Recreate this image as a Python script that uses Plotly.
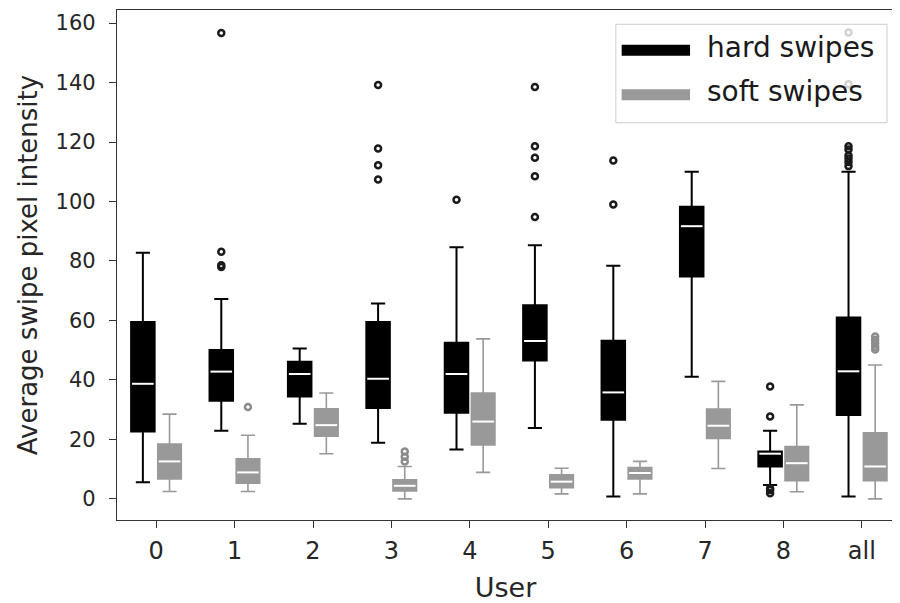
import numpy as np
import plotly.graph_objects as go

users = ['0', '1', '2', '3', '4', '5', '6', '7', '8', 'all']

hard_lo  = [5.6, 22.9, 25.3, 18.9, 16.6, 23.8, 0.8, 41.1, 4.7, 0.8]
hard_q1  = [22.7, 33.0, 34.4, 30.6, 29.0, 46.5, 26.6, 74.8, 10.9, 28.2]
hard_med = [38.7, 42.8, 42.0, 40.4, 42.0, 53.1, 35.8, 91.7, 15.2, 42.9]
hard_q3  = [59.5, 50.1, 46.1, 59.5, 52.5, 65.1, 53.2, 98.2, 15.9, 61.0]
hard_hi  = [82.8, 67.2, 50.6, 65.7, 84.6, 85.3, 78.4, 110.0, 22.9, 110.0]
hard_outliers = [
    [],
    [156.7, 83.1, 78.6, 78.0],
    [],
    [139.2, 117.8, 112.2, 107.4],
    [100.6],
    [138.5, 118.6, 114.7, 108.5, 94.8],
    [113.8, 99.0],
    [],
    [37.8, 27.7, 3.6, 3.0, 1.9],
    [156.8, 139.4, 118.6, 117.5, 115.5, 114.5, 113.3, 111.9],
]

soft_lo  = [2.5, 2.5, 15.2, 0.0, 8.9, 1.7, 1.7, 10.2, 2.4, 0.0]
soft_q1  = [6.7, 5.3, 21.1, 2.7, 18.1, 3.8, 6.7, 20.3, 6.1, 6.1]
soft_med = [12.6, 8.9, 24.8, 4.4, 26.0, 5.8, 8.7, 24.6, 12.0, 10.9]
soft_q3  = [18.4, 13.5, 30.3, 6.4, 35.6, 8.1, 10.5, 30.2, 17.6, 22.2]
soft_hi  = [28.5, 21.4, 35.6, 10.9, 53.8, 10.3, 12.6, 39.5, 31.6, 45.0]
soft_outliers = [
    [],
    [30.9],
    [],
    [15.9, 14.2, 12.6],
    [],
    [],
    [],
    [],
    [],
    [54.6, 53.5, 52.3, 51.2, 50.2],
]

series_names = ['hard swipes', 'soft swipes']
HARD = '#000000'
SOFT = '#999999'
OFFSET = 0.17
BOXW = 0.30

pos = np.arange(len(users))
fig = go.Figure()


def add_series(p, lo, q1, med, q3, hi, outs, color, lw, ocolor):
    fig.add_trace(go.Box(
        x=list(p), lowerfence=lo, q1=q1, median=med, q3=q3, upperfence=hi,
        width=BOXW, whiskerwidth=0.6, fillcolor=color,
        line=dict(color=color, width=lw), boxpoints=False,
        showlegend=False, hoverinfo='skip'))
    mx, my = [], []
    for pi, m in zip(p, med):
        mx += [pi - BOXW / 2 + 0.012, pi + BOXW / 2 - 0.012, None]
        my += [m, m, None]
    fig.add_trace(go.Scatter(x=mx, y=my, mode='lines',
                             line=dict(color='white', width=2),
                             showlegend=False, hoverinfo='skip'))
    ox, oy = [], []
    for pi, o in zip(p, outs):
        ox += [pi] * len(o)
        oy += o
    fig.add_trace(go.Scatter(x=ox, y=oy, mode='markers',
                             marker=dict(symbol='circle-open', size=6,
                                         color=ocolor, line=dict(width=2.5)),
                             showlegend=False, hoverinfo='skip'))


add_series(pos - OFFSET, hard_lo, hard_q1, hard_med, hard_q3, hard_hi,
           hard_outliers, HARD, 2, '#1a1a1a')
add_series(pos + OFFSET, soft_lo, soft_q1, soft_med, soft_q3, soft_hi,
           soft_outliers, SOFT, 1.6, '#8c8c8c')

# legend box (matplotlib style)
fig.add_shape(type='rect', xref='paper', yref='paper', x0=0.642, x1=0.991,
              y0=0.779, y1=0.972, fillcolor='rgba(255,255,255,0.8)',
              line=dict(color='#cccccc', width=1), layer='above')
leg_y = [0.921, 0.834]
txt_y = [0.926, 0.840]
for name, col, ly, ty in zip(series_names, [HARD, SOFT], leg_y, txt_y):
    fig.add_shape(type='line', xref='paper', yref='paper', x0=0.6495,
                  x1=0.7375, y0=ly, y1=ly, line=dict(color=col, width=11),
                  layer='above')
    fig.add_annotation(xref='paper', yref='paper', x=0.757, y=ty,
                       xanchor='left', yanchor='middle', text=name,
                       showarrow=False, font=dict(size=28, color='#1a1a1a'))

# the page body adds an 8px margin, so the figure is 8px smaller
fig.update_layout(
    width=892, height=595,
    margin=dict(l=109, r=6, t=2, b=83),
    plot_bgcolor='white', paper_bgcolor='white', showlegend=False,
    font=dict(family='DejaVu Sans', color='#262626'),
)
fig.update_xaxes(
    range=[-0.5, 9.41], tickmode='array', tickvals=list(pos), ticktext=users,
    showline=True, mirror=True, linecolor='#333333', linewidth=1.3,
    ticks='outside', ticklen=7, tickcolor='#333333', tickwidth=1.2,
    ticklabelstandoff=2,
    tickfont=dict(size=24), showgrid=False, zeroline=False, automargin=False,
    title=dict(text='User', font=dict(size=27), standoff=15),
)
fig.update_yaxes(
    range=[-7.1, 164.4], tickmode='array', tickvals=list(range(0, 161, 20)),
    showline=True, mirror=True, linecolor='#333333', linewidth=1.3,
    ticks='outside', ticklen=7, tickcolor='#333333', tickwidth=1.2,
    ticklabelstandoff=9,
    tickfont=dict(size=21), showgrid=False, zeroline=False, automargin=False,
    title=dict(text='Average swipe pixel intensity', font=dict(size=26), standoff=10),
)

fig.write_html('out.html')
